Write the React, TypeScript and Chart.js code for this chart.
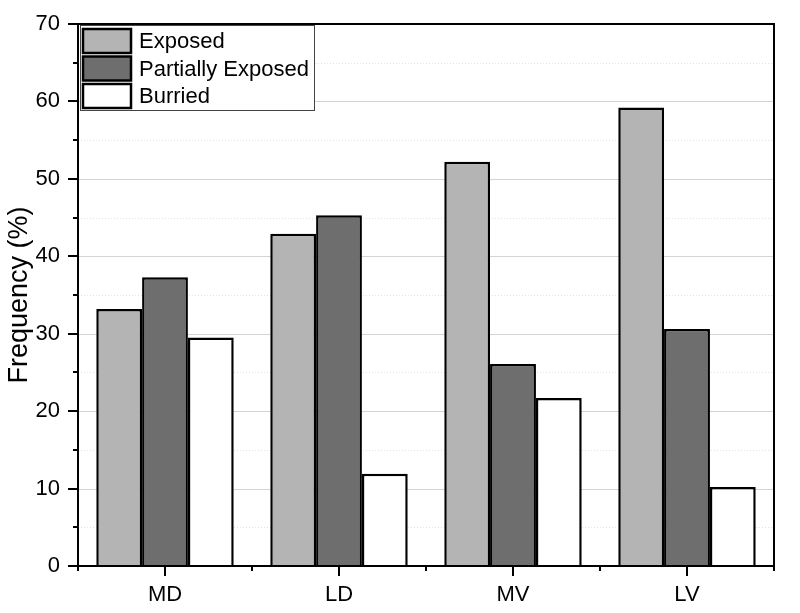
import React, { useEffect, useRef } from "react";
import { Chart, registerables } from "chart.js";

Chart.register(...registerables);

const categories = ["MD", "LD", "MV", "LV"];
const exposed = [33.2, 42.9, 52.2, 59.2];
const partiallyExposed = [37.3, 45.3, 26.1, 30.6];
const burried = [29.5, 11.9, 21.7, 10.2];
const seriesNames = ["Exposed", "Partially Exposed", "Burried"];
const seriesColors = ["#b4b4b4", "#6e6e6e", "#ffffff"];
const yMin = 0;
const yMax = 70;
const yMajorStep = 10;
const yMinorStep = 5;

const FONT = "'Liberation Sans', Arial, sans-serif";

const framePlugin = {
  id: "framePlugin",
  beforeDatasetsDraw(chart: any) {
    const { ctx, chartArea: ca, scales } = chart;
    const y = scales.y;
    ctx.save();
    for (let v = yMin + yMinorStep; v < yMax; v += yMinorStep) {
      const py = Math.round(y.getPixelForValue(v)) + 0.5;
      const major = v % yMajorStep === 0;
      ctx.beginPath();
      ctx.lineWidth = 1;
      if (major) {
        ctx.strokeStyle = "#d4d4d4";
        ctx.setLineDash([]);
      } else {
        ctx.strokeStyle = "#e2e2e2";
        ctx.setLineDash([1, 2]);
      }
      ctx.moveTo(ca.left, py);
      ctx.lineTo(ca.right, py);
      ctx.stroke();
    }
    ctx.restore();
  },
  afterDatasetsDraw(chart: any) {
    const { ctx, chartArea: ca, scales } = chart;
    const y = scales.y;
    ctx.save();
    ctx.strokeStyle = "#000";
    ctx.lineWidth = 2;
    ctx.setLineDash([]);
    ctx.strokeRect(ca.left, ca.top, ca.right - ca.left, ca.bottom - ca.top);
    for (let v = yMin; v <= yMax; v += yMinorStep) {
      const py = Math.round(y.getPixelForValue(v));
      const len = v % yMajorStep === 0 ? 10 : 5;
      ctx.beginPath();
      ctx.moveTo(ca.left, py);
      ctx.lineTo(ca.left - len, py);
      ctx.stroke();
    }
    const n = categories.length;
    const w = (ca.right - ca.left) / n;
    for (let i = 0; i <= n; i++) {
      const px = Math.round(ca.left + i * w);
      ctx.beginPath();
      ctx.moveTo(px, ca.bottom);
      ctx.lineTo(px, ca.bottom + 5);
      ctx.stroke();
    }
    for (let i = 0; i < n; i++) {
      const px = Math.round(chart.scales.x.getPixelForValue(i));
      ctx.beginPath();
      ctx.moveTo(px, ca.bottom);
      ctx.lineTo(px, ca.bottom + 10);
      ctx.stroke();
    }
    ctx.restore();
  },
  afterDraw(chart: any) {
    const { ctx, chartArea: ca } = chart;
    ctx.save();
    const bx = ca.left + 2;
    const by = ca.top + 1;
    const bw = 234;
    const bh = 85;
    ctx.fillStyle = "#fff";
    ctx.fillRect(bx, by, bw, bh);
    ctx.strokeStyle = "#444";
    ctx.lineWidth = 1;
    ctx.strokeRect(bx + 0.5, by + 0.5, bw, bh);
    ctx.font = `22px ${FONT}`;
    ctx.textBaseline = "middle";
    ctx.textAlign = "left";
    chart.data.datasets.forEach((ds: any, i: number) => {
      const sy = by + 4 + i * 27.5;
      ctx.fillStyle = ds.backgroundColor;
      ctx.fillRect(bx + 3, sy, 48, 24);
      ctx.strokeStyle = "#000";
      ctx.lineWidth = 2.5;
      ctx.strokeRect(bx + 3, sy, 48, 24);
      ctx.fillStyle = "#000";
      ctx.fillText(ds.label, bx + 59, sy + 13);
    });
    ctx.restore();
  },
};

export default function App() {
  const ref = useRef<HTMLCanvasElement>(null);
  useEffect(() => {
    const seriesData = [exposed, partiallyExposed, burried];
    const chart = new Chart(ref.current!, {
      type: "bar",
      data: {
        labels: categories,
        datasets: seriesNames.map((name, i) => ({
          label: name,
          data: seriesData[i],
          backgroundColor: seriesColors[i],
          borderColor: "#000",
          borderWidth: 2.5,
          borderSkipped: "bottom",
          categoryPercentage: 0.79,
          barPercentage: 1,
        })),
      },
      options: {
        animation: false,
        responsive: false,
        maintainAspectRatio: false,
        layout: { padding: { left: 2, right: 26, top: 24, bottom: 0 } },
        plugins: {
          legend: { display: false },
          tooltip: { enabled: false },
        },
        scales: {
          x: {
            grid: { display: false, drawTicks: false },
            border: { display: false },
            ticks: { color: "#000", font: { size: 22, family: FONT }, padding: 16 },
            afterFit: (s: any) => {
              s.height = 47;
              s.paddingLeft = 0;
              s.paddingRight = 0;
            },
          },
          y: {
            min: yMin,
            max: yMax,
            grid: { display: false, drawTicks: false },
            border: { display: false },
            ticks: {
              stepSize: yMajorStep,
              color: "#000",
              font: { size: 22, family: FONT },
              padding: 18,
            },
            title: {
              display: true,
              text: "Frequency (%)",
              color: "#000",
              font: { size: 27, family: FONT },
              padding: { top: 1, bottom: 4 },
            },
            afterFit: (s: any) => {
              s.width = 76;
              s.paddingTop = 0;
              s.paddingBottom = 0;
            },
          },
        },
      },
      plugins: [framePlugin],
    });
    return () => chart.destroy();
  }, []);
  return (
    <div style={{ position: "fixed", left: 0, top: 0, width: 800, height: 613, background: "#fff" }}>
      <canvas ref={ref} width={800} height={613} style={{ width: 800, height: 613 }} />
    </div>
  );
}
